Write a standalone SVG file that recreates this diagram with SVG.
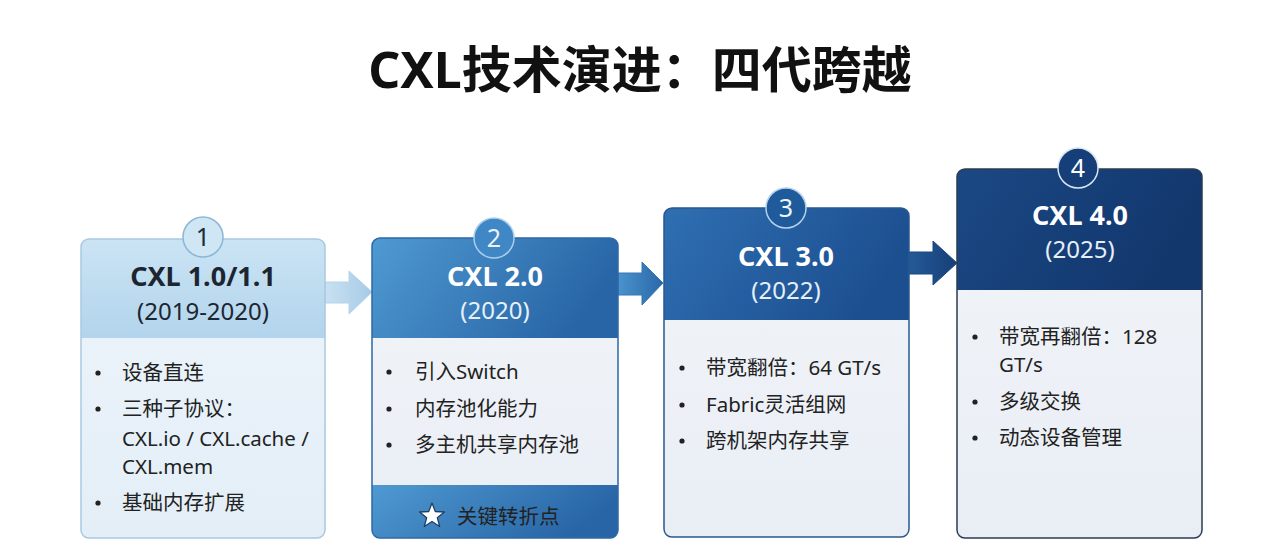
<svg xmlns="http://www.w3.org/2000/svg" width="1280" height="544" viewBox="0 0 1280 544">
<defs>
<style>
.t{font-family:"Noto Sans","Noto Sans CJK SC",sans-serif}
.main{font-size:50px;font-weight:bold;fill:#111;text-anchor:middle}
.h{font-size:27px;font-weight:bold;text-anchor:middle}
.y{font-size:24px;text-anchor:middle}
.b{font-size:20.5px;fill:#222}
.dot{fill:#222}
.num{font-size:25px;text-anchor:middle}
</style>
<linearGradient id="h1" x1="0" y1="0" x2="0" y2="1"><stop offset="0" stop-color="#cbe4f4"/><stop offset="1" stop-color="#b2d4ec"/></linearGradient>
<linearGradient id="h2" x1="0" y1="0" x2="1" y2="0.3"><stop offset="0" stop-color="#4f9ad2"/><stop offset="1" stop-color="#2865a6"/></linearGradient>
<linearGradient id="h3" x1="0" y1="0" x2="1" y2="0.3"><stop offset="0" stop-color="#2f6fb2"/><stop offset="1" stop-color="#1c4f90"/></linearGradient>
<linearGradient id="h4" x1="0" y1="0" x2="1" y2="0.3"><stop offset="0" stop-color="#1b4884"/><stop offset="1" stop-color="#12376d"/></linearGradient>
<linearGradient id="bd1" x1="0" y1="0" x2="0" y2="1"><stop offset="0" stop-color="#eef5fb"/><stop offset="1" stop-color="#e3eef7"/></linearGradient>
<linearGradient id="bd" x1="0" y1="0" x2="0" y2="1"><stop offset="0" stop-color="#f2f5f9"/><stop offset="1" stop-color="#e9eef5"/></linearGradient>
<linearGradient id="a1" x1="0" y1="0" x2="1" y2="0"><stop offset="0" stop-color="#c9e1f2"/><stop offset="1" stop-color="#a6cbe6"/></linearGradient>
<linearGradient id="a2" x1="0" y1="0" x2="1" y2="0"><stop offset="0" stop-color="#4a93cd"/><stop offset="1" stop-color="#2a68a8"/></linearGradient>
<linearGradient id="a3" x1="0" y1="0" x2="1" y2="0"><stop offset="0" stop-color="#245a98"/><stop offset="1" stop-color="#173f78"/></linearGradient>
<clipPath id="c1"><rect x="81" y="239" width="244" height="299" rx="8"/></clipPath>
<clipPath id="c2"><rect x="372" y="238" width="246" height="300" rx="8"/></clipPath>
<clipPath id="c3"><rect x="664" y="208" width="245" height="329" rx="8"/></clipPath>
<clipPath id="c4"><rect x="957" y="169" width="245" height="369" rx="8"/></clipPath>
</defs>
<rect width="1280" height="544" fill="#ffffff"/>
<text class="t main" x="640" y="88">CXL技术演进：四代跨越</text>

<g id="connectors">
<path d="M325,282 H349 V271 L372,292 L349,314 V303 H325 Z" fill="url(#a1)" stroke="#b6d3e9" stroke-width="1"/>
<path d="M618,273 H642 V262 L663,283 L642,305 V295 H618 Z" fill="url(#a2)" stroke="#3576b4" stroke-width="1"/>
<path d="M909,252 H933 V241 L957,263 L933,285 V274 H909 Z" fill="url(#a3)" stroke="#1d477f" stroke-width="1"/>
</g>

<g id="node1">
<g clip-path="url(#c1)">
<rect x="81" y="239" width="244" height="299" fill="url(#bd1)"/>
<rect x="81" y="239" width="244" height="99" fill="url(#h1)"/>
</g>
<rect x="81" y="239" width="244" height="299" rx="8" fill="none" stroke="#a9c9e1" stroke-width="1.5"/>
<circle cx="203" cy="237" r="20" fill="#cfe6f5" stroke="#8db6d6" stroke-width="1.5"/>
<text class="t num" x="203" y="246" fill="#1e2b38">1</text>
<text class="t h" x="203" y="286" fill="#1c2631">CXL 1.0/1.1</text>
<text class="t y" x="203" y="320" fill="#1c2631">(2019-2020)</text>
<circle class="dot" cx="98" cy="373" r="2.6"/>
<text class="t b" x="122" y="380">设备直连</text>
<circle class="dot" cx="98" cy="409" r="2.6"/>
<text class="t b" x="122" y="416">三种子协议：</text>
<text class="t b" x="122" y="446">CXL.io / CXL.cache /</text>
<text class="t b" x="122" y="474">CXL.mem</text>
<circle class="dot" cx="98" cy="503" r="2.6"/>
<text class="t b" x="122" y="510">基础内存扩展</text>
</g>

<g id="node2">
<g clip-path="url(#c2)">
<rect x="372" y="238" width="246" height="300" fill="url(#bd)"/>
<rect x="372" y="238" width="246" height="100" fill="url(#h2)"/>
<rect x="372" y="485" width="246" height="53" fill="url(#h2)"/>
</g>
<rect x="372" y="238" width="246" height="300" rx="8" fill="none" stroke="#2c69a6" stroke-width="1.5"/>
<circle cx="494" cy="238" r="20" fill="#3f87c5" stroke="#a9cfec" stroke-width="1.5"/>
<text class="t num" x="494" y="247" fill="#e9f2fa">2</text>
<text class="t h" x="495" y="286" fill="#ffffff">CXL 2.0</text>
<text class="t y" x="495" y="319" fill="#e6f0f9">(2020)</text>
<circle class="dot" cx="389" cy="372" r="2.6"/>
<text class="t b" x="415" y="379">引入Switch</text>
<circle class="dot" cx="389" cy="409" r="2.6"/>
<text class="t b" x="415" y="416">内存池化能力</text>
<circle class="dot" cx="389" cy="445" r="2.6"/>
<text class="t b" x="415" y="452">多主机共享内存池</text>
<polygon points="432,503 435.3,511.5 444.4,512 437.3,517.7 439.7,526.5 432,521.5 424.3,526.5 426.7,517.7 419.6,512 428.7,511.5" fill="#ffffff" stroke="#1d3f66" stroke-width="1.3" stroke-linejoin="round"/>
<text class="t b" x="457" y="524" fill="#f2f7fc">关键转折点</text>
</g>

<g id="node3">
<g clip-path="url(#c3)">
<rect x="664" y="208" width="245" height="329" fill="url(#bd)"/>
<rect x="664" y="208" width="245" height="112" fill="url(#h3)"/>
</g>
<rect x="664" y="208" width="245" height="329" rx="8" fill="none" stroke="#2a5890" stroke-width="1.5"/>
<circle cx="786" cy="208" r="20" fill="#1f5a9b" stroke="#b5d2ec" stroke-width="1.5"/>
<text class="t num" x="786" y="217" fill="#eef4fa">3</text>
<text class="t h" x="786" y="266" fill="#ffffff">CXL 3.0</text>
<text class="t y" x="786" y="299" fill="#e6eef8">(2022)</text>
<circle class="dot" cx="682" cy="368" r="2.6"/>
<text class="t b" x="706" y="375">带宽翻倍：64 GT/s</text>
<circle class="dot" cx="682" cy="405" r="2.6"/>
<text class="t b" x="706" y="412">Fabric灵活组网</text>
<circle class="dot" cx="682" cy="441" r="2.6"/>
<text class="t b" x="706" y="448">跨机架内存共享</text>
</g>

<g id="node4">
<g clip-path="url(#c4)">
<rect x="957" y="169" width="245" height="369" fill="url(#bd)"/>
<rect x="957" y="169" width="245" height="121" fill="url(#h4)"/>
</g>
<rect x="957" y="169" width="245" height="369" rx="8" fill="none" stroke="#2d3b52" stroke-width="1.5"/>
<circle cx="1078" cy="168" r="20" fill="#163e78" stroke="#d8e6f4" stroke-width="1.5"/>
<text class="t num" x="1078" y="177" fill="#ffffff">4</text>
<text class="t h" x="1080" y="225" fill="#ffffff">CXL 4.0</text>
<text class="t y" x="1080" y="258" fill="#e6eef8">(2025)</text>
<circle class="dot" cx="975" cy="337" r="2.6"/>
<text class="t b" x="999" y="344">带宽再翻倍：128</text>
<text class="t b" x="999" y="372">GT/s</text>
<circle class="dot" cx="975" cy="402" r="2.6"/>
<text class="t b" x="999" y="409">多级交换</text>
<circle class="dot" cx="975" cy="438" r="2.6"/>
<text class="t b" x="999" y="445">动态设备管理</text>
</g>
</svg>
